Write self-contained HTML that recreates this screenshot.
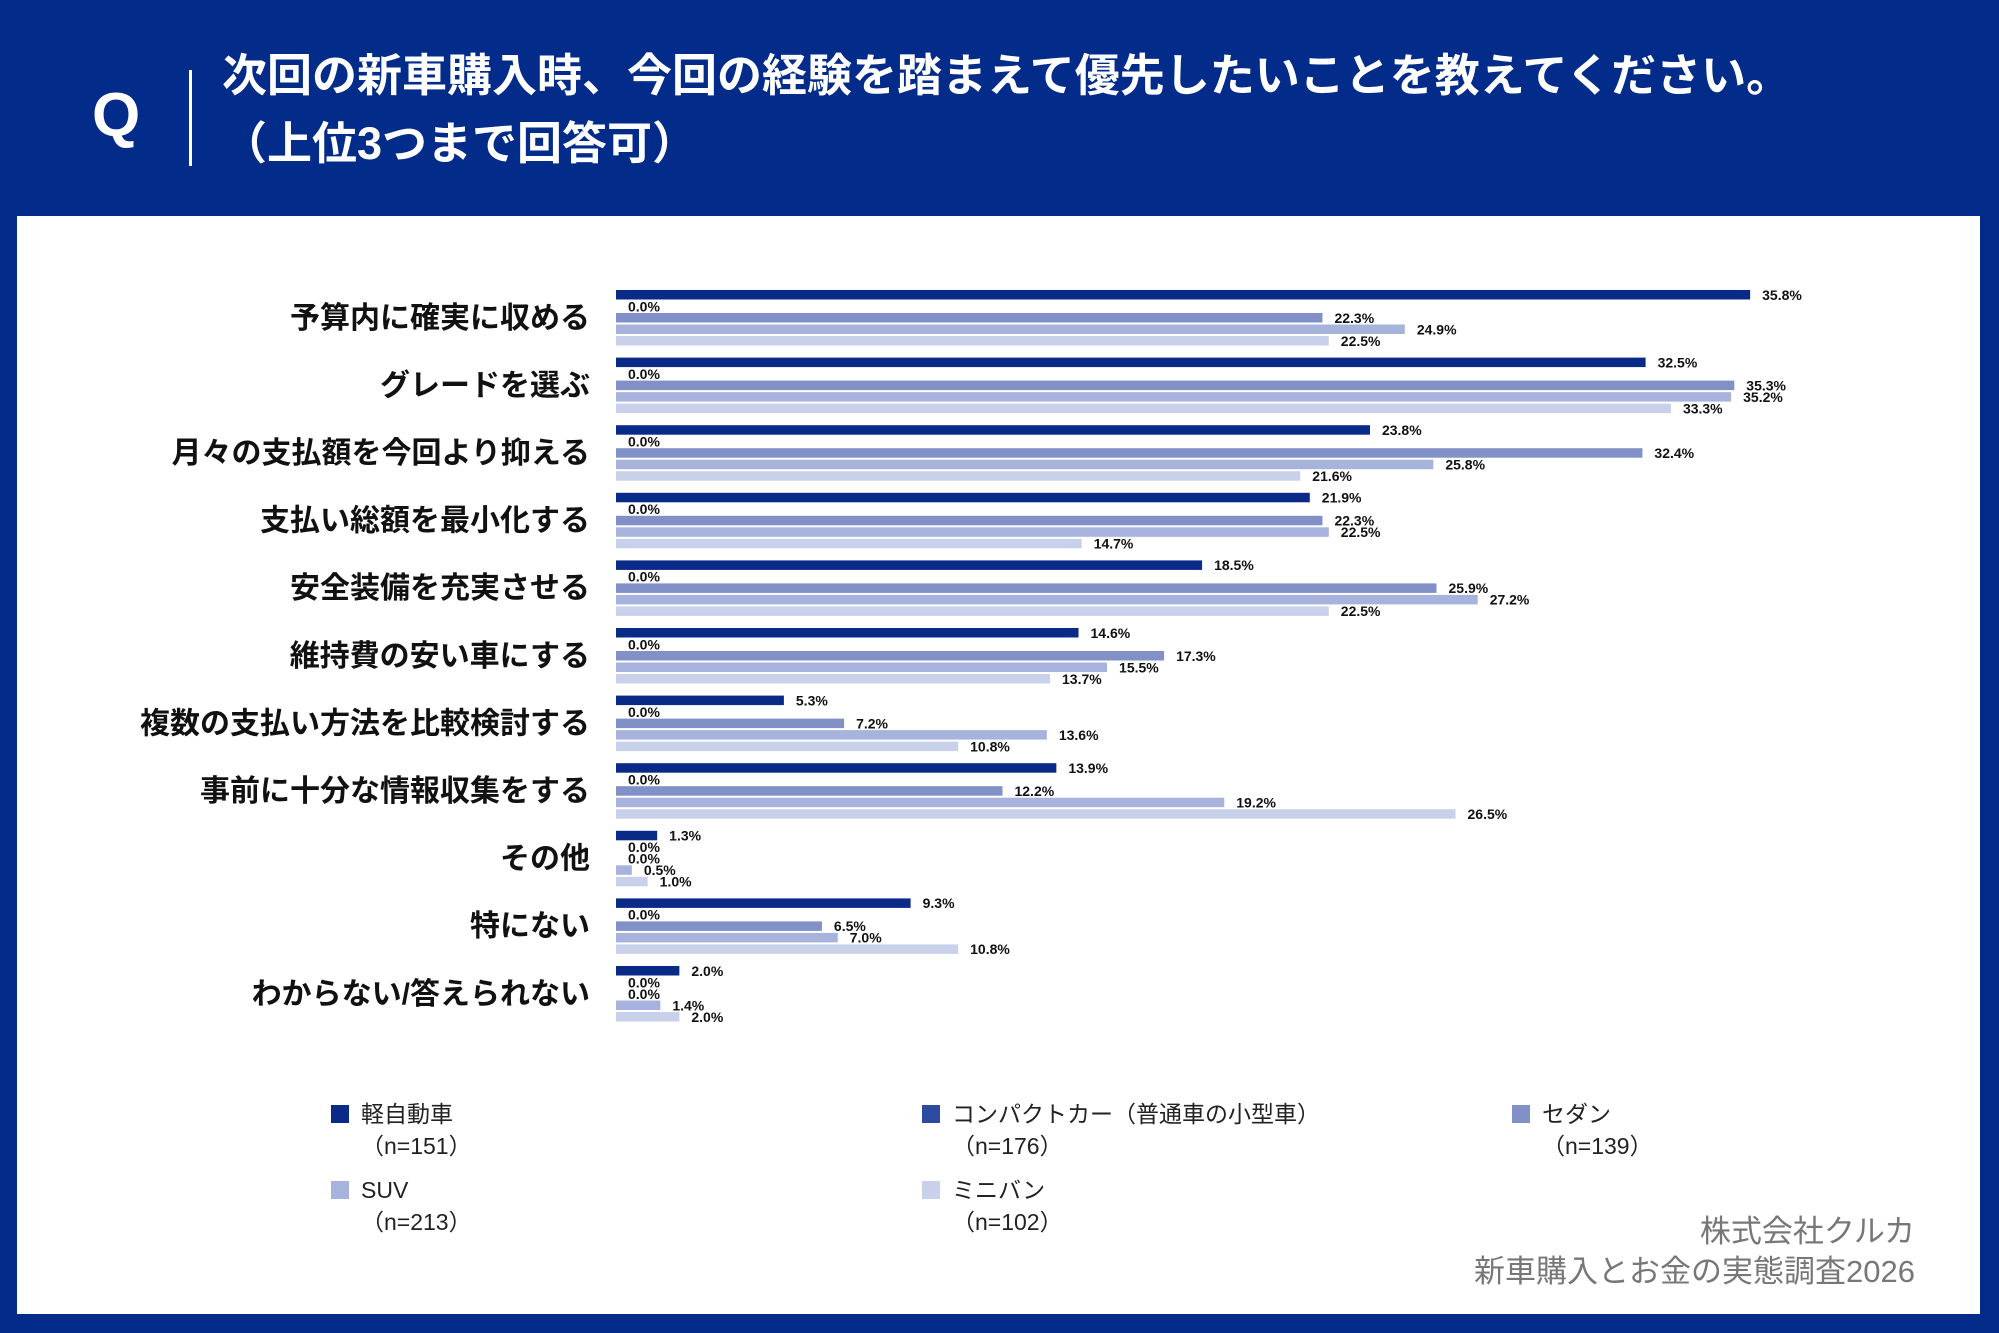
<!DOCTYPE html>
<html><head><meta charset="utf-8">
<style>
html,body{margin:0;padding:0;}
body{width:1999px;height:1333px;background:#032b8a;position:relative;overflow:hidden;font-family:"Liberation Sans","Noto Sans CJK JP",sans-serif;}
#card{position:absolute;left:17px;top:216px;width:1963px;height:1098px;background:#fff;}
.t{position:absolute;color:#fff;font-weight:bold;}
</style></head><body>
<div class="t" style="left:92px;top:80px;font-size:62px;">Q</div>
<div style="position:absolute;left:189px;top:70px;width:3px;height:96px;background:#fff;"></div>
<div class="t" style="left:222px;top:42px;font-size:45px;line-height:68px;white-space:nowrap;">次回の新車購入時、今回の経験を踏まえて優先したいことを教えてください。<br>（上位3つまで回答可）</div>
<div id="card"></div>
<svg id="chart" width="1999" height="1333" style="position:absolute;left:0;top:0;"></svg>
<script>
const categories=["予算内に確実に収める","グレードを選ぶ","月々の支払額を今回より抑える","支払い総額を最小化する","安全装備を充実させる","維持費の安い車にする","複数の支払い方法を比較検討する","事前に十分な情報収集をする","その他","特にない","わからない/答えられない"];
const seriesNames=["軽自動車","コンパクトカー（普通車の小型車）","セダン","SUV","ミニバン"];
const seriesN=["（n=151）","（n=176）","（n=139）","（n=213）","（n=102）"];
const kei=[35.8,32.5,23.8,21.9,18.5,14.6,5.3,13.9,1.3,9.3,2.0];
const compact=[0,0,0,0,0,0,0,0,0,0,0];
const sedan=[22.3,35.3,32.4,22.3,25.9,17.3,7.2,12.2,0,6.5,0];
const suv=[24.9,35.2,25.8,22.5,27.2,15.5,13.6,19.2,0.5,7.0,1.4];
const minivan=[22.5,33.3,21.6,14.7,22.5,13.7,10.8,26.5,1.0,10.8,2.0];
const series=[kei,compact,sedan,suv,minivan];
const colors=["#0a2a88","#2d4a9e","#8190c6","#a7b3dd","#c9d1ea"];
const NS="http://www.w3.org/2000/svg";
const svg=document.getElementById('chart');
const x0=616, pxPer=31.68, groupTop=290, groupPitch=67.6, barPitch=11.5, barH=9.5;
function xs(v){return x0+v*pxPer;}
function ys(ci,si){return groupTop+ci*groupPitch+si*barPitch;}
function mk(tag,attrs){const e=document.createElementNS(NS,tag);for(const k in attrs)e.setAttribute(k,attrs[k]);svg.appendChild(e);return e;}
categories.forEach((c,ci)=>{
  const t=mk('text',{x:590,y:ys(ci,2)+barH/2+10,'text-anchor':'end','font-size':30,'font-weight':'bold',fill:'#111'});
  t.textContent=c;
  
  
  series.forEach((s,si)=>{
    const v=s[ci];
    const r=mk('rect',{x:x0,y:ys(ci,si),width:Math.max(0,xs(v)-x0),height:barH,fill:colors[si]});
    
    
    const l=mk('text',{x:xs(v)+12,y:ys(ci,si)+barH/2+5,'font-size':14,'font-weight':'bold',fill:'#111'});
    l.textContent=v.toFixed(1)+'%';
    
    
  });
});
const legX=[331,922,1512,331,922], legY=[1114,1114,1114,1190,1190];
seriesNames.forEach((n,i)=>{
  const r=mk('rect',{x:legX[i],y:legY[i]-9,width:18,height:18,fill:colors[i]});
  
  
  const t=mk('text',{x:legX[i]+30,y:legY[i]+8,'font-size':23,fill:'#222'});
  t.textContent=n;
  
  
  const t2=mk('text',{x:legX[i]+30,y:legY[i]+40,'font-size':23,fill:'#222'});
  t2.textContent=seriesN[i];
  
  
});
const s1=mk('text',{x:1915,y:1242,'text-anchor':'end','font-size':31,fill:'#777'});
s1.textContent='株式会社クルカ';


const s2=mk('text',{x:1915,y:1282,'text-anchor':'end','font-size':31,fill:'#777'});
s2.textContent='新車購入とお金の実態調査2026';


</script>
</body></html>
